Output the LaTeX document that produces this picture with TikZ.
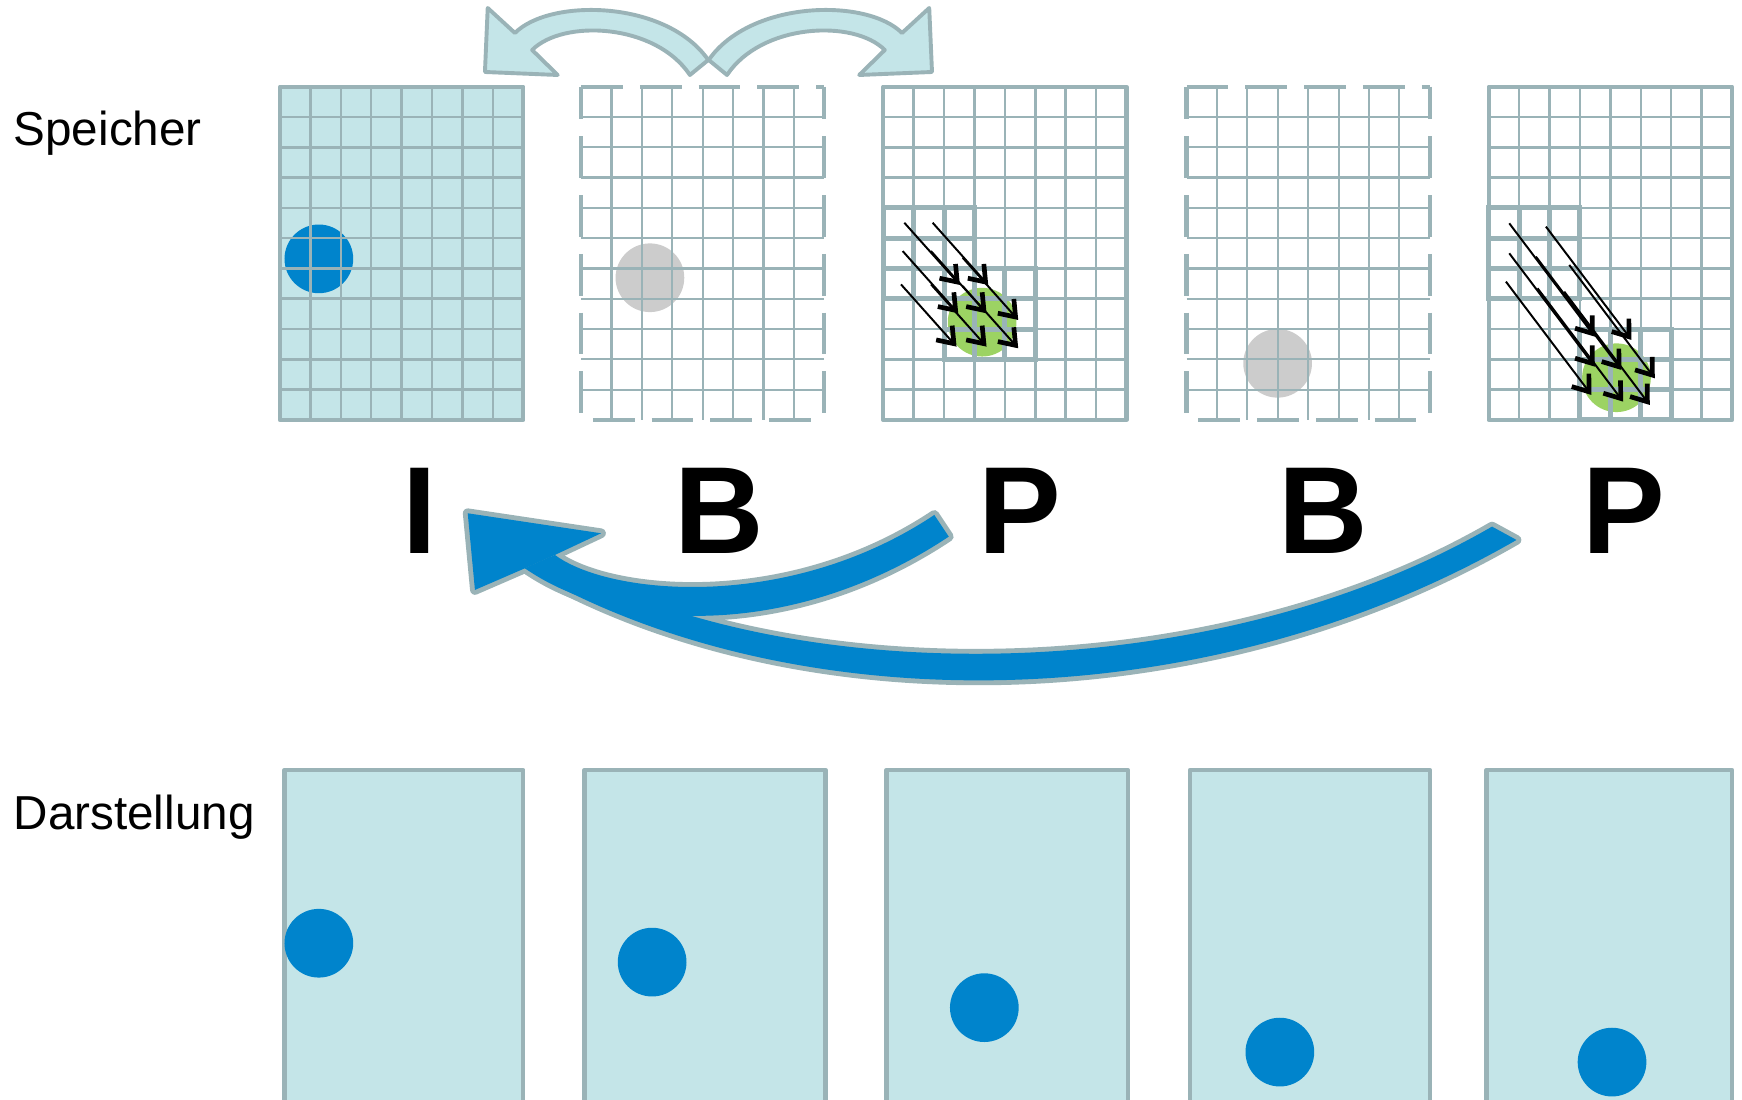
\documentclass[tikz,border=0pt]{standalone}
\usepackage{fontspec}
\setmainfont{Liberation Sans}
\usetikzlibrary{arrows.meta}
\definecolor{lb}{RGB}{196,229,232}
\definecolor{fg}{RGB}{154,179,183}
\definecolor{db}{RGB}{0,132,204}
\definecolor{dg}{RGB}{204,204,204}
\definecolor{gr}{RGB}{156,211,99}
% grid lines of a memory frame: #1 = left x, #2 = style
\newcommand{\framegridlines}[2]{%
  \foreach \i in {1,...,7} {\draw[#2] ({#1+\i*27.375},78) -- ({#1+\i*27.375},378);}
  \foreach \j in {1,...,10} {\draw[#2] (#1,{78+\j*27.2727}) -- ({#1+219},{78+\j*27.2727});}
}
% thick 3x3 block: #1 = frame left x, #2 = column, #3 = row
\newcommand{\thickblock}[3]{%
  \foreach \k in {0,...,3} {
    \draw[blk] ({#1+(#2+\k)*27.375},{78+#3*27.2727}) -- ({#1+(#2+\k)*27.375},{78+(#3+3)*27.2727});
    \draw[blk] ({#1+#2*27.375},{78+(#3+\k)*27.2727}) -- ({#1+(#2+3)*27.375},{78+(#3+\k)*27.2727});
  }
}
% dashed border of a B frame: #1 = left x
\newcommand{\dashedborder}[1]{%
  \draw[dborder,dash phase=0pt] (#1,78) -- ({#1+219},78);
  \draw[dborder,dash phase=4.6pt] (#1,78) -- (#1,378);
  \draw[dborder,dash phase=4.6pt] ({#1+219},78) -- ({#1+219},378);
  \draw[dborder,dash phase=24pt] (#1,378) -- ({#1+219},378);
}
\begin{document}
\begin{tikzpicture}[x=0.02cm,y=-0.02cm,
  gridl/.style={draw=fg,line width=1.3pt},
  dgridl/.style={draw=fg,line width=1.1pt},
  border/.style={draw=fg,line width=2.2pt,line join=round},
  dborder/.style={draw=fg,line width=2.2pt,dash pattern=on 21.4pt off 8.7pt},
  blk/.style={draw=fg,line width=2.6pt,line cap=rect},
  mv/.style={line width=1pt,-{Straight Barb[length=7.5pt,width=11pt,line width=2.4pt]}},
  tarrow/.style={fill=lb,draw=fg,line width=2pt,line join=round},
  bigout/.style={draw=fg,line width=5pt,line join=round},
  bigin/.style={fill=db},
  lbl/.style={anchor=base west,inner sep=0pt,font=\fontsize{24.4pt}{29pt}\selectfont},
  big/.style={anchor=base,inner sep=0pt,font=\fontsize{63.5pt}{70pt}\selectfont\bfseries}
]
\useasboundingbox (0,0) rectangle (1568,990);
\clip (0,0) rectangle (1568,990);

% labels
\node[lbl] (speicher) at (12,131) {Speicher};
\node[lbl] (darstellung) at (12,747) {Darstellung};

% ---------- memory frames ----------
% I frame
\fill[lb] (252,78) rectangle (471,378);
\fill[db] (287,233) circle[radius=17.6pt];
\framegridlines{252}{gridl}
\draw[border] (252,78) rectangle (471,378);

% B frame 1
\fill[dg] (585,250) circle[radius=17.6pt];
\framegridlines{523}{dgridl}
\dashedborder{523}

% P frame 1
\fill[gr] (884,290) circle[radius=17.6pt];
\framegridlines{795}{gridl}
\draw[border] (795,78) rectangle (1014,378);
\thickblock{795}{0}{4}
\thickblock{795}{2}{6}
\foreach \tx/\ty in {864/256.5, 889.5/256.5, 862.5/282, 888/282, 916.5/288, 861/312, 888/312, 916.5/313.5}
  {\draw[mv] ({\tx-50},{\ty-56}) -- (\tx,\ty);}

% B frame 2
\fill[dg] (1150,327) circle[radius=17.6pt];
\framegridlines{1068}{dgridl}
\dashedborder{1068}

% P frame 2
\fill[gr] (1455,340) circle[radius=17.6pt];
\framegridlines{1340}{gridl}
\draw[border] (1340,78) rectangle (1559,378);
\thickblock{1340}{0}{4}
\thickblock{1340}{3}{8}
\foreach \tx/\ty in {1435.5/303, 1468.5/306, 1435.5/330, 1459.5/333, 1489.5/340.5, 1432.5/355.5, 1461/361.5, 1485/364.5}
  {\draw[mv] ({\tx-77},{\ty-102}) -- (\tx,\ty);}

% ---------- top curved arrows ----------
\draw[tarrow] (436.5,64.8) -- (439,7.2) -- (463.5,29.7)
  .. controls (495,-2) and (600,0) .. (637.5,54) -- (621,67.5)
  .. controls (590,21) and (507,17) .. (479,45) -- (502,67.5) -- cycle;
\draw[tarrow] (838.9,64.8) -- (836.4,7.2) -- (811.9,29.7)
  .. controls (780.4,-2) and (675.4,0) .. (637.9,54) -- (654.4,67.5)
  .. controls (685.4,21) and (768.4,17) .. (796.4,45) -- (773.4,67.5) -- cycle;

% ---------- frame type letters ----------
\node[big] (tI) at (378,498) {I};
\node[big] (tB1) at (647,498) {B};
\node[big] (tP1) at (918,498) {P};
\node[big] (tB2) at (1191,498) {B};
\node[big] (tP2) at (1462,498) {P};

% ---------- big blue reference arrows ----------
\def\headpath{(421,462) -- (427.5,531) -- (472.5,511.5) -- (499.5,499.5) -- (541,480) -- cycle}
\def\longpath{(1365,486) .. controls (1081,650) and (709,650) .. (472.5,511.5) -- (495,501.5) .. controls (700.9,620.3) and (1085,623.2) .. (1343,474) -- cycle}
\def\shortpath{(854,483) .. controls (714.2,576.2) and (555.6,569.7) .. (472.5,511.5) -- (499.5,499.5) .. controls (547.9,535.8) and (709.3,551.3) .. (841,463.5) -- cycle}
\draw[bigout] \headpath;
\draw[bigout] \longpath;
\draw[bigout] \shortpath;
\fill[bigin] \headpath;
\fill[bigin] \longpath;
\fill[bigin] \shortpath;

% ---------- display frames ----------
\foreach \xa/\xb/\cx/\cy in {256/471/287/849, 526/743/587/866, 798/1015/886/907, 1071/1287/1152/947, 1338/1559/1451/956} {
  \fill[lb] (\xa,693) rectangle (\xb,1010);
  \draw[border] (\xa,693) rectangle (\xb,1010);
  \fill[db] (\cx,\cy) circle[radius=17.6pt];
}
\end{tikzpicture}
\end{document}
